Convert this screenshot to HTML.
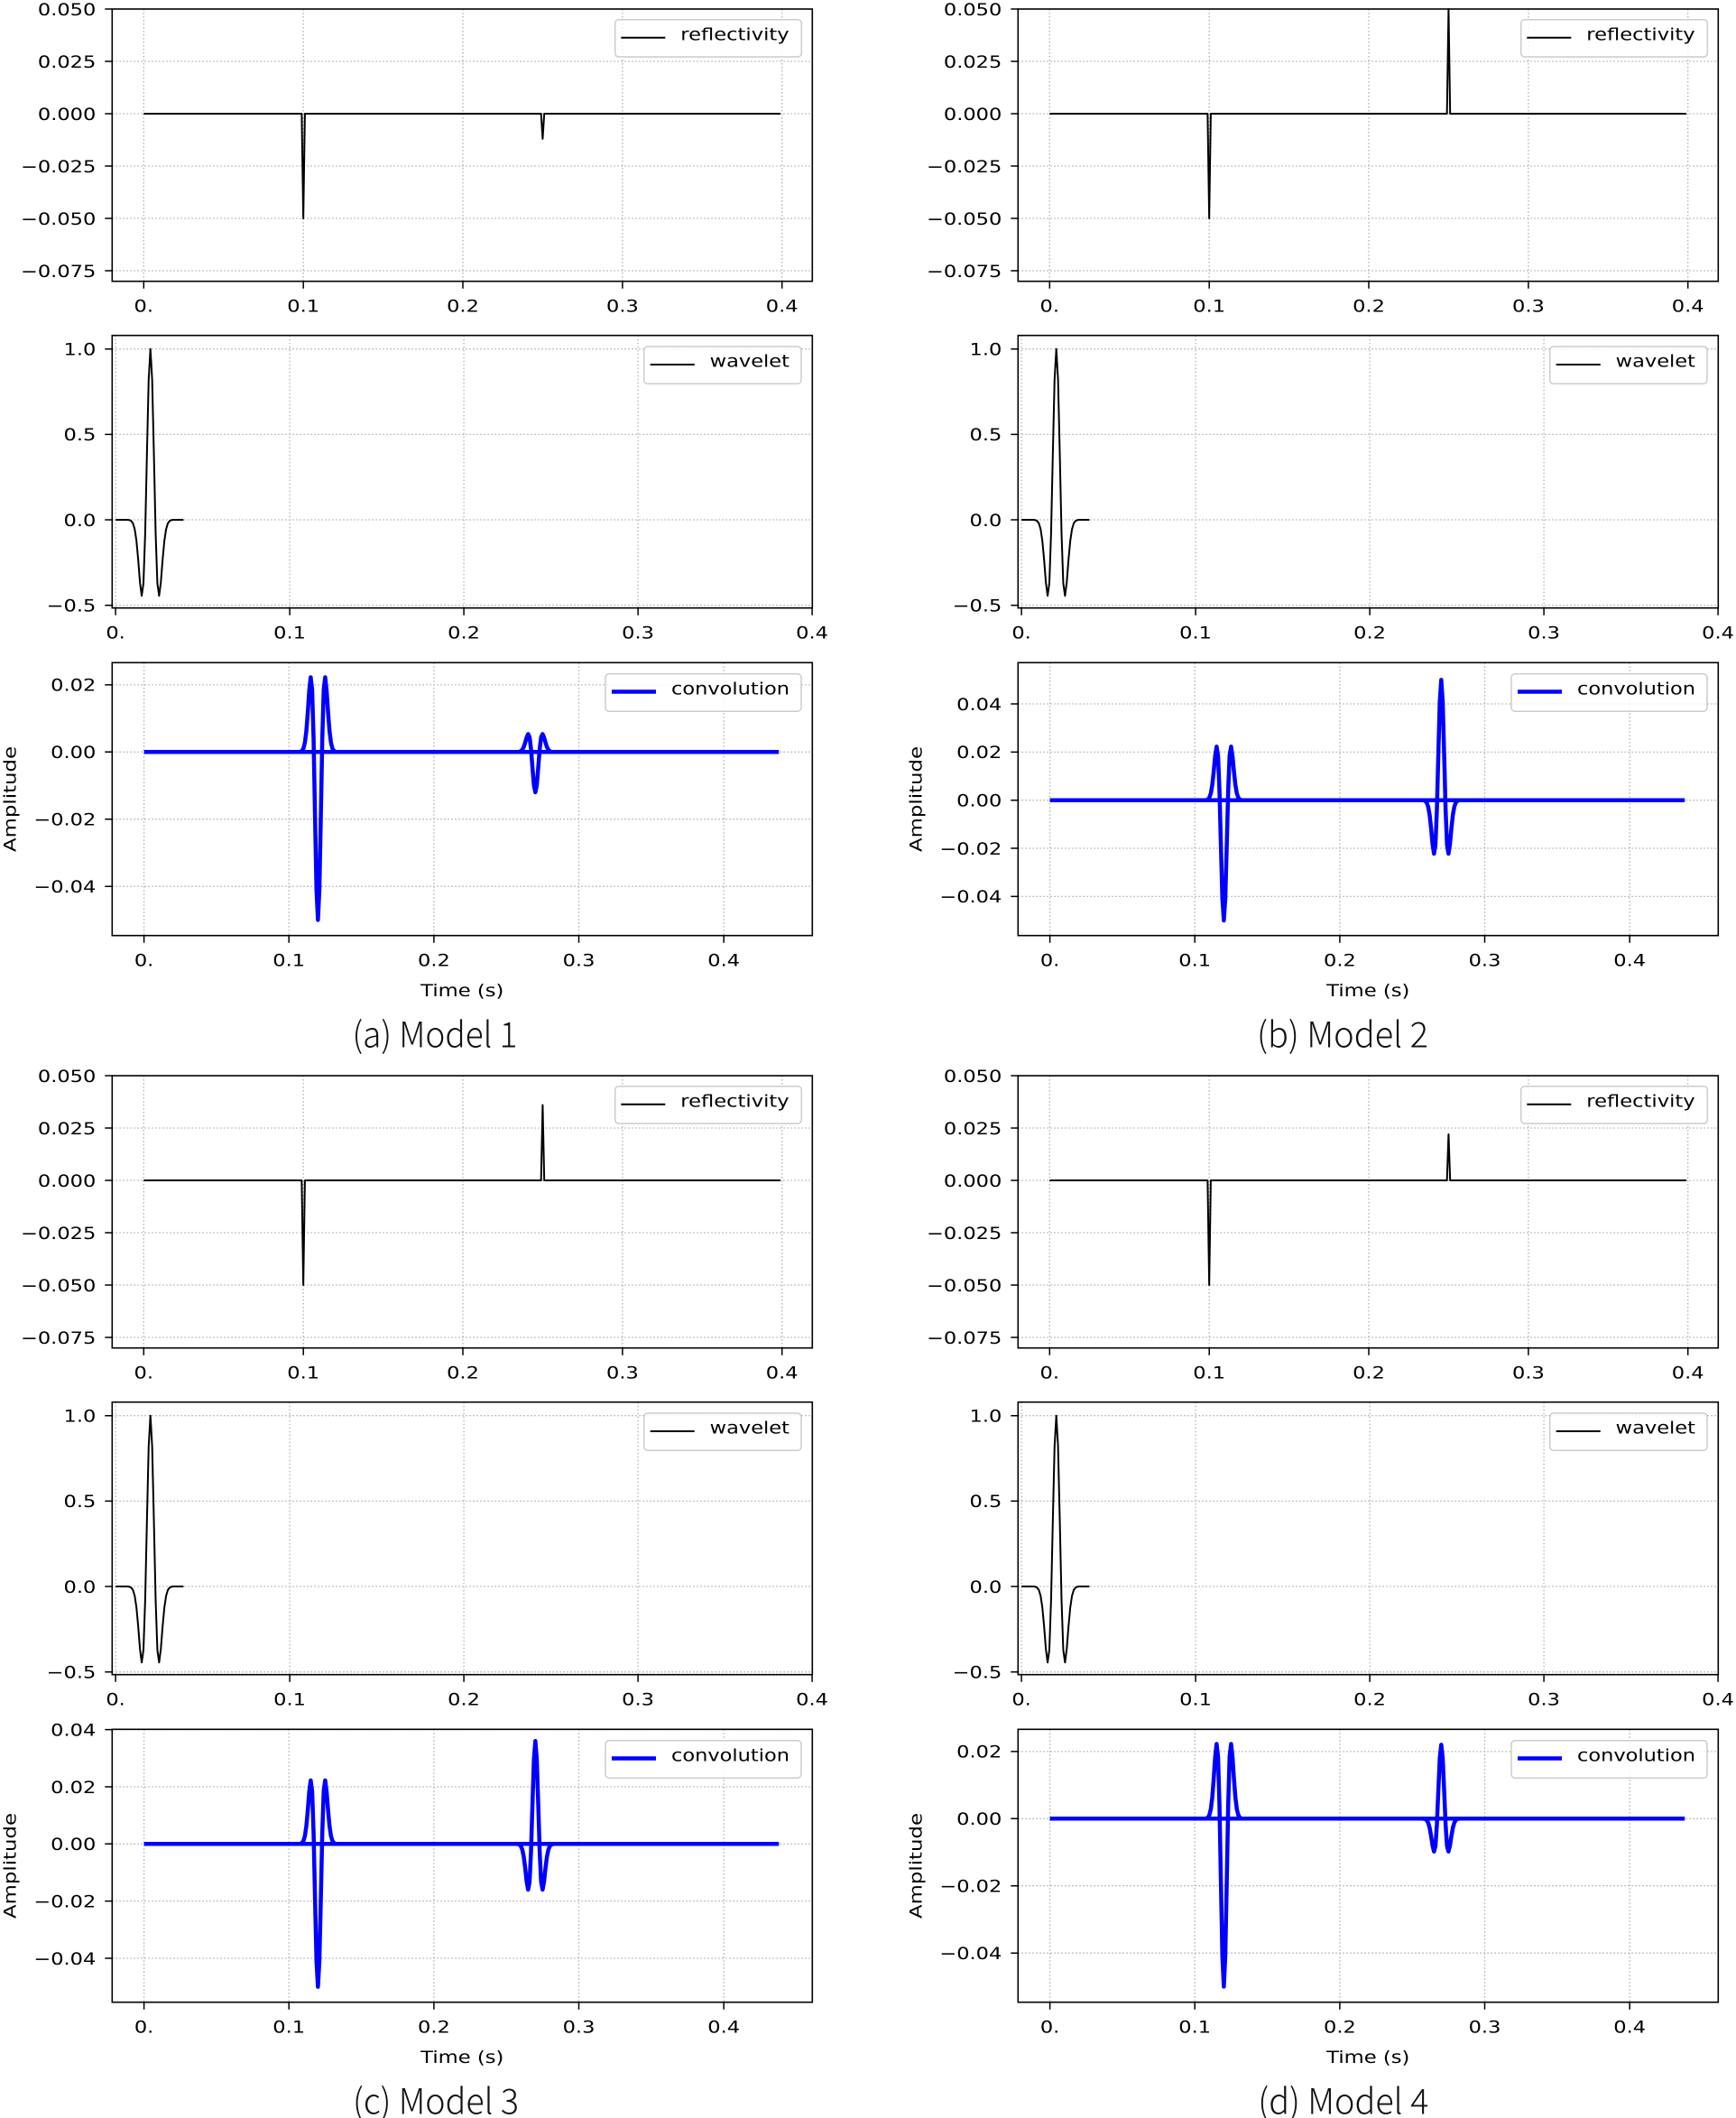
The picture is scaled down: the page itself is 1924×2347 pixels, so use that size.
<!DOCTYPE html>
<html><head><meta charset="utf-8"><style>
html,body{margin:0;padding:0;background:#fff}
svg{display:block}
.g{fill:none;stroke:#b0b0b0;stroke-width:1.3;stroke-dasharray:1.5 2.5}
.sp{fill:none;stroke:#000;stroke-width:1.6}
.tk{fill:none;stroke:#000;stroke-width:1.5}
.k{fill:none;stroke:#000;stroke-width:2;stroke-linejoin:round;vector-effect:non-scaling-stroke}
.b{fill:none;stroke:#0000ff;stroke-width:4.5;stroke-linejoin:round;vector-effect:non-scaling-stroke}
text{font-family:"DejaVu Sans","Liberation Sans",sans-serif;font-size:19px;fill:#000}
.e{text-anchor:end}.m{text-anchor:middle}
.cap{font-family:"Noto Sans CJK SC","Liberation Sans",sans-serif;font-weight:300;font-size:39px;text-anchor:middle;fill:#111}
.lg{fill:#fff;fill-opacity:.8;stroke:#cccccc;stroke-width:1.5}
</style></head><body>
<svg width="1924" height="2347" viewBox="0 0 1924 2347" xmlns="http://www.w3.org/2000/svg">
<rect width="1924" height="2347" fill="#fff"/>

<!-- ================= PANEL (a) ================= -->
<g transform="translate(0,0)">
<path class="g" d="M159.3 10V311.7M336.2 10V311.7M513 10V311.7M689.9 10V311.7M866.7 10V311.7M124.3 68H900.3M124.3 126H900.3M124.3 184H900.3M124.3 242H900.3M124.3 300H900.3"/>
<g transform="translate(159.3,126) scale(1.7685,-0.232)"><path class="k" d="M0 0L99 0L100 -500L101 0L249 0L250 -120L251 0L399 0"/></g>
<rect class="sp" x="124.3" y="10" width="776" height="301.7"/>
<path class="tk" d="M116.3 10h8M116.3 68h8M116.3 126h8M116.3 184h8M116.3 242h8M116.3 300h8M159.3 311.7v8M336.2 311.7v8M513 311.7v8M689.9 311.7v8M866.7 311.7v8"/>
<text class="e" x="106.3" y="16.8" textLength="64.4" lengthAdjust="spacingAndGlyphs">0.050</text>
<text class="e" x="106.3" y="74.8" textLength="64.4" lengthAdjust="spacingAndGlyphs">0.025</text>
<text class="e" x="106.3" y="132.8" textLength="64.4" lengthAdjust="spacingAndGlyphs">0.000</text>
<text class="e" x="106.3" y="190.8" textLength="83.3" lengthAdjust="spacingAndGlyphs">−0.025</text>
<text class="e" x="106.3" y="248.8" textLength="83.3" lengthAdjust="spacingAndGlyphs">−0.050</text>
<text class="e" x="106.3" y="306.8" textLength="83.3" lengthAdjust="spacingAndGlyphs">−0.075</text>
<text class="m" x="159.3" y="345.7" textLength="21.5" lengthAdjust="spacingAndGlyphs">0.</text>
<text class="m" x="336.2" y="345.7" textLength="35.8" lengthAdjust="spacingAndGlyphs">0.1</text>
<text class="m" x="513" y="345.7" textLength="35.8" lengthAdjust="spacingAndGlyphs">0.2</text>
<text class="m" x="689.9" y="345.7" textLength="35.8" lengthAdjust="spacingAndGlyphs">0.3</text>
<text class="m" x="866.7" y="345.7" textLength="35.8" lengthAdjust="spacingAndGlyphs">0.4</text>
<rect class="lg" x="681.7" y="21.7" width="206.6" height="41.3" rx="4"/>
<path d="M688.3 41.7H737.3" stroke="#000" stroke-width="2"/>
<text x="754.3" y="44.4" textLength="120.3" lengthAdjust="spacingAndGlyphs">reflectivity</text>

<path class="g" d="M128.1 371.7V673.7M321.1 371.7V673.7M514.1 371.7V673.7M707.1 371.7V673.7M900.1 371.7V673.7M124.3 386.7H900.3M124.3 481.4H900.3M124.3 576H900.3M124.3 670.7H900.3"/>
<g transform="translate(128.1,576) scale(1.93,-189.3)"><path class="k" d="M0 0L7 0L8 -.00193L9 -.00685L10 -.02102L11 -.05539L12 -.12435L13 -.23496L14 -.36512L15 -.44495L16 -.37175L17 -.07758L18 .38423L19 .82018L20 1L21 .82018L22 .38423L23 -.07758L24 -.37175L25 -.44495L26 -.36512L27 -.23496L28 -.12435L29 -.05539L30 -.02102L31 -.00685L32 -.00193L33 0L39 0"/></g>
<rect class="sp" x="124.3" y="371.7" width="776" height="302"/>
<path class="tk" d="M116.3 386.7h8M116.3 481.4h8M116.3 576h8M116.3 670.7h8M128.1 673.7v8M321.1 673.7v8M514.1 673.7v8M707.1 673.7v8M900.1 673.7v8"/>
<text class="e" x="106.3" y="393.5" textLength="35.8" lengthAdjust="spacingAndGlyphs">1.0</text>
<text class="e" x="106.3" y="488.2" textLength="35.8" lengthAdjust="spacingAndGlyphs">0.5</text>
<text class="e" x="106.3" y="582.8" textLength="35.8" lengthAdjust="spacingAndGlyphs">0.0</text>
<text class="e" x="106.3" y="677.5" textLength="54.6" lengthAdjust="spacingAndGlyphs">−0.5</text>
<text class="m" x="128.1" y="707.7" textLength="21.5" lengthAdjust="spacingAndGlyphs">0.</text>
<text class="m" x="321.1" y="707.7" textLength="35.8" lengthAdjust="spacingAndGlyphs">0.1</text>
<text class="m" x="514.1" y="707.7" textLength="35.8" lengthAdjust="spacingAndGlyphs">0.2</text>
<text class="m" x="707.1" y="707.7" textLength="35.8" lengthAdjust="spacingAndGlyphs">0.3</text>
<text class="m" x="900.1" y="707.7" textLength="35.8" lengthAdjust="spacingAndGlyphs">0.4</text>
<rect class="lg" x="713.7" y="384" width="174.3" height="41.3" rx="4"/>
<path d="M720.7 404H769.7" stroke="#000" stroke-width="2"/>
<text x="786.7" y="406.7" textLength="88.3" lengthAdjust="spacingAndGlyphs">wavelet</text>

<path class="g" d="M159.6 734.3V1036.7M320.2 734.3V1036.7M480.9 734.3V1036.7M641.5 734.3V1036.7M802.2 734.3V1036.7M124.3 758.9H900.3M124.3 833.3H900.3M124.3 907.7H900.3M124.3 982.2H900.3"/>
<g transform="translate(159.6,833.3) scale(1.6064,-3722)">
<path class="b" d="M0 0L438 0"/>
<path class="b" transform="translate(120,0) scale(1,-0.05)" d="M-13 0L-12 -.00193L-11 -.00685L-10 -.02102L-9 -.05539L-8 -.12435L-7 -.23496L-6 -.36512L-5 -.44495L-4 -.37175L-3 -.07758L-2 .38423L-1 .82018L0 1L1 .82018L2 .38423L3 -.07758L4 -.37175L5 -.44495L6 -.36512L7 -.23496L8 -.12435L9 -.05539L10 -.02102L11 -.00685L12 -.00193L13 0"/>
<path class="b" transform="translate(270,0) scale(1,-0.012)" d="M-13 0L-12 -.00193L-11 -.00685L-10 -.02102L-9 -.05539L-8 -.12435L-7 -.23496L-6 -.36512L-5 -.44495L-4 -.37175L-3 -.07758L-2 .38423L-1 .82018L0 1L1 .82018L2 .38423L3 -.07758L4 -.37175L5 -.44495L6 -.36512L7 -.23496L8 -.12435L9 -.05539L10 -.02102L11 -.00685L12 -.00193L13 0"/>
</g>
<rect class="sp" x="124.3" y="734.3" width="776" height="302.4"/>
<path class="tk" d="M116.3 758.9h8M116.3 833.3h8M116.3 907.7h8M116.3 982.2h8M159.6 1036.7v8M320.2 1036.7v8M480.9 1036.7v8M641.5 1036.7v8M802.2 1036.7v8"/>
<text class="e" x="106.3" y="765.7" textLength="50.1" lengthAdjust="spacingAndGlyphs">0.02</text>
<text class="e" x="106.3" y="840.1" textLength="50.1" lengthAdjust="spacingAndGlyphs">0.00</text>
<text class="e" x="106.3" y="914.5" textLength="68.9" lengthAdjust="spacingAndGlyphs">−0.02</text>
<text class="e" x="106.3" y="989" textLength="68.9" lengthAdjust="spacingAndGlyphs">−0.04</text>
<text class="m" x="159.6" y="1070.7" textLength="21.5" lengthAdjust="spacingAndGlyphs">0.</text>
<text class="m" x="320.2" y="1070.7" textLength="35.8" lengthAdjust="spacingAndGlyphs">0.1</text>
<text class="m" x="480.9" y="1070.7" textLength="35.8" lengthAdjust="spacingAndGlyphs">0.2</text>
<text class="m" x="641.5" y="1070.7" textLength="35.8" lengthAdjust="spacingAndGlyphs">0.3</text>
<text class="m" x="802.2" y="1070.7" textLength="35.8" lengthAdjust="spacingAndGlyphs">0.4</text>
<text class="m" x="512.3" y="1104" textLength="92.2" lengthAdjust="spacingAndGlyphs">Time (s)</text>
<text class="m" x="17.7" y="885.5" transform="rotate(-90 17.7 885.5)" textLength="117" lengthAdjust="spacingAndGlyphs">Amplitude</text>
<rect class="lg" x="671" y="746.7" width="217" height="41.5" rx="4"/>
<path d="M678 766.5H727" stroke="#0000ff" stroke-width="4.5"/>
<text x="744" y="769.4" textLength="131" lengthAdjust="spacingAndGlyphs">convolution</text>
<text class="cap" x="482" y="1160.7" textLength="183" lengthAdjust="spacingAndGlyphs">(a) Model 1</text>
</g>

<!-- ================= PANEL (b) ================= -->
<g transform="translate(1004,0)">
<path class="g" d="M159.3 10V311.7M336.2 10V311.7M513 10V311.7M689.9 10V311.7M866.7 10V311.7M124.3 68H900.3M124.3 126H900.3M124.3 184H900.3M124.3 242H900.3M124.3 300H900.3"/>
<g transform="translate(159.3,126) scale(1.7685,-0.232)"><path class="k" d="M0 0L99 0L100 -500L101 0L249 0L250 500L251 0L399 0"/></g>
<rect class="sp" x="124.3" y="10" width="776" height="301.7"/>
<path class="tk" d="M116.3 10h8M116.3 68h8M116.3 126h8M116.3 184h8M116.3 242h8M116.3 300h8M159.3 311.7v8M336.2 311.7v8M513 311.7v8M689.9 311.7v8M866.7 311.7v8"/>
<text class="e" x="106.3" y="16.8" textLength="64.4" lengthAdjust="spacingAndGlyphs">0.050</text>
<text class="e" x="106.3" y="74.8" textLength="64.4" lengthAdjust="spacingAndGlyphs">0.025</text>
<text class="e" x="106.3" y="132.8" textLength="64.4" lengthAdjust="spacingAndGlyphs">0.000</text>
<text class="e" x="106.3" y="190.8" textLength="83.3" lengthAdjust="spacingAndGlyphs">−0.025</text>
<text class="e" x="106.3" y="248.8" textLength="83.3" lengthAdjust="spacingAndGlyphs">−0.050</text>
<text class="e" x="106.3" y="306.8" textLength="83.3" lengthAdjust="spacingAndGlyphs">−0.075</text>
<text class="m" x="159.3" y="345.7" textLength="21.5" lengthAdjust="spacingAndGlyphs">0.</text>
<text class="m" x="336.2" y="345.7" textLength="35.8" lengthAdjust="spacingAndGlyphs">0.1</text>
<text class="m" x="513" y="345.7" textLength="35.8" lengthAdjust="spacingAndGlyphs">0.2</text>
<text class="m" x="689.9" y="345.7" textLength="35.8" lengthAdjust="spacingAndGlyphs">0.3</text>
<text class="m" x="866.7" y="345.7" textLength="35.8" lengthAdjust="spacingAndGlyphs">0.4</text>
<rect class="lg" x="681.7" y="21.7" width="206.6" height="41.3" rx="4"/>
<path d="M688.3 41.7H737.3" stroke="#000" stroke-width="2"/>
<text x="754.3" y="44.4" textLength="120.3" lengthAdjust="spacingAndGlyphs">reflectivity</text>

<path class="g" d="M128.1 371.7V673.7M321.1 371.7V673.7M514.1 371.7V673.7M707.1 371.7V673.7M900.1 371.7V673.7M124.3 386.7H900.3M124.3 481.4H900.3M124.3 576H900.3M124.3 670.7H900.3"/>
<g transform="translate(128.1,576) scale(1.93,-189.3)"><path class="k" d="M0 0L7 0L8 -.00193L9 -.00685L10 -.02102L11 -.05539L12 -.12435L13 -.23496L14 -.36512L15 -.44495L16 -.37175L17 -.07758L18 .38423L19 .82018L20 1L21 .82018L22 .38423L23 -.07758L24 -.37175L25 -.44495L26 -.36512L27 -.23496L28 -.12435L29 -.05539L30 -.02102L31 -.00685L32 -.00193L33 0L39 0"/></g>
<rect class="sp" x="124.3" y="371.7" width="776" height="302"/>
<path class="tk" d="M116.3 386.7h8M116.3 481.4h8M116.3 576h8M116.3 670.7h8M128.1 673.7v8M321.1 673.7v8M514.1 673.7v8M707.1 673.7v8M900.1 673.7v8"/>
<text class="e" x="106.3" y="393.5" textLength="35.8" lengthAdjust="spacingAndGlyphs">1.0</text>
<text class="e" x="106.3" y="488.2" textLength="35.8" lengthAdjust="spacingAndGlyphs">0.5</text>
<text class="e" x="106.3" y="582.8" textLength="35.8" lengthAdjust="spacingAndGlyphs">0.0</text>
<text class="e" x="106.3" y="677.5" textLength="54.6" lengthAdjust="spacingAndGlyphs">−0.5</text>
<text class="m" x="128.1" y="707.7" textLength="21.5" lengthAdjust="spacingAndGlyphs">0.</text>
<text class="m" x="321.1" y="707.7" textLength="35.8" lengthAdjust="spacingAndGlyphs">0.1</text>
<text class="m" x="514.1" y="707.7" textLength="35.8" lengthAdjust="spacingAndGlyphs">0.2</text>
<text class="m" x="707.1" y="707.7" textLength="35.8" lengthAdjust="spacingAndGlyphs">0.3</text>
<text class="m" x="900.1" y="707.7" textLength="35.8" lengthAdjust="spacingAndGlyphs">0.4</text>
<rect class="lg" x="713.7" y="384" width="174.3" height="41.3" rx="4"/>
<path d="M720.7 404H769.7" stroke="#000" stroke-width="2"/>
<text x="786.7" y="406.7" textLength="88.3" lengthAdjust="spacingAndGlyphs">wavelet</text>

<path class="g" d="M159.6 734.3V1036.7M320.2 734.3V1036.7M480.9 734.3V1036.7M641.5 734.3V1036.7M802.2 734.3V1036.7M124.3 780H900.3M124.3 833.4H900.3M124.3 886.7H900.3M124.3 940H900.3M124.3 993.4H900.3"/>
<g transform="translate(159.6,886.7) scale(1.6064,-2667)">
<path class="b" d="M0 0L438 0"/>
<path class="b" transform="translate(120,0) scale(1,-0.05)" d="M-13 0L-12 -.00193L-11 -.00685L-10 -.02102L-9 -.05539L-8 -.12435L-7 -.23496L-6 -.36512L-5 -.44495L-4 -.37175L-3 -.07758L-2 .38423L-1 .82018L0 1L1 .82018L2 .38423L3 -.07758L4 -.37175L5 -.44495L6 -.36512L7 -.23496L8 -.12435L9 -.05539L10 -.02102L11 -.00685L12 -.00193L13 0"/>
<path class="b" transform="translate(270,0) scale(1,0.05)" d="M-13 0L-12 -.00193L-11 -.00685L-10 -.02102L-9 -.05539L-8 -.12435L-7 -.23496L-6 -.36512L-5 -.44495L-4 -.37175L-3 -.07758L-2 .38423L-1 .82018L0 1L1 .82018L2 .38423L3 -.07758L4 -.37175L5 -.44495L6 -.36512L7 -.23496L8 -.12435L9 -.05539L10 -.02102L11 -.00685L12 -.00193L13 0"/>
</g>
<rect class="sp" x="124.3" y="734.3" width="776" height="302.4"/>
<path class="tk" d="M116.3 780h8M116.3 833.4h8M116.3 886.7h8M116.3 940h8M116.3 993.4h8M159.6 1036.7v8M320.2 1036.7v8M480.9 1036.7v8M641.5 1036.7v8M802.2 1036.7v8"/>
<text class="e" x="106.3" y="786.8" textLength="50.1" lengthAdjust="spacingAndGlyphs">0.04</text>
<text class="e" x="106.3" y="840.2" textLength="50.1" lengthAdjust="spacingAndGlyphs">0.02</text>
<text class="e" x="106.3" y="893.5" textLength="50.1" lengthAdjust="spacingAndGlyphs">0.00</text>
<text class="e" x="106.3" y="946.8" textLength="68.9" lengthAdjust="spacingAndGlyphs">−0.02</text>
<text class="e" x="106.3" y="1000.2" textLength="68.9" lengthAdjust="spacingAndGlyphs">−0.04</text>
<text class="m" x="159.6" y="1070.7" textLength="21.5" lengthAdjust="spacingAndGlyphs">0.</text>
<text class="m" x="320.2" y="1070.7" textLength="35.8" lengthAdjust="spacingAndGlyphs">0.1</text>
<text class="m" x="480.9" y="1070.7" textLength="35.8" lengthAdjust="spacingAndGlyphs">0.2</text>
<text class="m" x="641.5" y="1070.7" textLength="35.8" lengthAdjust="spacingAndGlyphs">0.3</text>
<text class="m" x="802.2" y="1070.7" textLength="35.8" lengthAdjust="spacingAndGlyphs">0.4</text>
<text class="m" x="512.3" y="1104" textLength="92.2" lengthAdjust="spacingAndGlyphs">Time (s)</text>
<text class="m" x="17.7" y="885.5" transform="rotate(-90 17.7 885.5)" textLength="117" lengthAdjust="spacingAndGlyphs">Amplitude</text>
<rect class="lg" x="671" y="746.7" width="217" height="41.5" rx="4"/>
<path d="M678 766.5H727" stroke="#0000ff" stroke-width="4.5"/>
<text x="744" y="769.4" textLength="131" lengthAdjust="spacingAndGlyphs">convolution</text>
<text class="cap" x="484" y="1160.7" textLength="190" lengthAdjust="spacingAndGlyphs">(b) Model 2</text>
</g>

<!-- ================= PANEL (c) ================= -->
<g transform="translate(0,1182)">
<path class="g" d="M159.3 10V311.7M336.2 10V311.7M513 10V311.7M689.9 10V311.7M866.7 10V311.7M124.3 68H900.3M124.3 126H900.3M124.3 184H900.3M124.3 242H900.3M124.3 300H900.3"/>
<g transform="translate(159.3,126) scale(1.7685,-0.232)"><path class="k" d="M0 0L99 0L100 -500L101 0L249 0L250 360L251 0L399 0"/></g>
<rect class="sp" x="124.3" y="10" width="776" height="301.7"/>
<path class="tk" d="M116.3 10h8M116.3 68h8M116.3 126h8M116.3 184h8M116.3 242h8M116.3 300h8M159.3 311.7v8M336.2 311.7v8M513 311.7v8M689.9 311.7v8M866.7 311.7v8"/>
<text class="e" x="106.3" y="16.8" textLength="64.4" lengthAdjust="spacingAndGlyphs">0.050</text>
<text class="e" x="106.3" y="74.8" textLength="64.4" lengthAdjust="spacingAndGlyphs">0.025</text>
<text class="e" x="106.3" y="132.8" textLength="64.4" lengthAdjust="spacingAndGlyphs">0.000</text>
<text class="e" x="106.3" y="190.8" textLength="83.3" lengthAdjust="spacingAndGlyphs">−0.025</text>
<text class="e" x="106.3" y="248.8" textLength="83.3" lengthAdjust="spacingAndGlyphs">−0.050</text>
<text class="e" x="106.3" y="306.8" textLength="83.3" lengthAdjust="spacingAndGlyphs">−0.075</text>
<text class="m" x="159.3" y="345.7" textLength="21.5" lengthAdjust="spacingAndGlyphs">0.</text>
<text class="m" x="336.2" y="345.7" textLength="35.8" lengthAdjust="spacingAndGlyphs">0.1</text>
<text class="m" x="513" y="345.7" textLength="35.8" lengthAdjust="spacingAndGlyphs">0.2</text>
<text class="m" x="689.9" y="345.7" textLength="35.8" lengthAdjust="spacingAndGlyphs">0.3</text>
<text class="m" x="866.7" y="345.7" textLength="35.8" lengthAdjust="spacingAndGlyphs">0.4</text>
<rect class="lg" x="681.7" y="21.7" width="206.6" height="41.3" rx="4"/>
<path d="M688.3 41.7H737.3" stroke="#000" stroke-width="2"/>
<text x="754.3" y="44.4" textLength="120.3" lengthAdjust="spacingAndGlyphs">reflectivity</text>

<path class="g" d="M128.1 371.7V673.7M321.1 371.7V673.7M514.1 371.7V673.7M707.1 371.7V673.7M900.1 371.7V673.7M124.3 386.7H900.3M124.3 481.4H900.3M124.3 576H900.3M124.3 670.7H900.3"/>
<g transform="translate(128.1,576) scale(1.93,-189.3)"><path class="k" d="M0 0L7 0L8 -.00193L9 -.00685L10 -.02102L11 -.05539L12 -.12435L13 -.23496L14 -.36512L15 -.44495L16 -.37175L17 -.07758L18 .38423L19 .82018L20 1L21 .82018L22 .38423L23 -.07758L24 -.37175L25 -.44495L26 -.36512L27 -.23496L28 -.12435L29 -.05539L30 -.02102L31 -.00685L32 -.00193L33 0L39 0"/></g>
<rect class="sp" x="124.3" y="371.7" width="776" height="302"/>
<path class="tk" d="M116.3 386.7h8M116.3 481.4h8M116.3 576h8M116.3 670.7h8M128.1 673.7v8M321.1 673.7v8M514.1 673.7v8M707.1 673.7v8M900.1 673.7v8"/>
<text class="e" x="106.3" y="393.5" textLength="35.8" lengthAdjust="spacingAndGlyphs">1.0</text>
<text class="e" x="106.3" y="488.2" textLength="35.8" lengthAdjust="spacingAndGlyphs">0.5</text>
<text class="e" x="106.3" y="582.8" textLength="35.8" lengthAdjust="spacingAndGlyphs">0.0</text>
<text class="e" x="106.3" y="677.5" textLength="54.6" lengthAdjust="spacingAndGlyphs">−0.5</text>
<text class="m" x="128.1" y="707.7" textLength="21.5" lengthAdjust="spacingAndGlyphs">0.</text>
<text class="m" x="321.1" y="707.7" textLength="35.8" lengthAdjust="spacingAndGlyphs">0.1</text>
<text class="m" x="514.1" y="707.7" textLength="35.8" lengthAdjust="spacingAndGlyphs">0.2</text>
<text class="m" x="707.1" y="707.7" textLength="35.8" lengthAdjust="spacingAndGlyphs">0.3</text>
<text class="m" x="900.1" y="707.7" textLength="35.8" lengthAdjust="spacingAndGlyphs">0.4</text>
<rect class="lg" x="713.7" y="384" width="174.3" height="41.3" rx="4"/>
<path d="M720.7 404H769.7" stroke="#000" stroke-width="2"/>
<text x="786.7" y="406.7" textLength="88.3" lengthAdjust="spacingAndGlyphs">wavelet</text>

<path class="g" d="M159.6 734.3V1036.7M320.2 734.3V1036.7M480.9 734.3V1036.7M641.5 734.3V1036.7M802.2 734.3V1036.7M124.3 734.6H900.3M124.3 798H900.3M124.3 861.3H900.3M124.3 924.6H900.3M124.3 988H900.3"/>
<g transform="translate(159.6,861.3) scale(1.6064,-3167)">
<path class="b" d="M0 0L438 0"/>
<path class="b" transform="translate(120,0) scale(1,-0.05)" d="M-13 0L-12 -.00193L-11 -.00685L-10 -.02102L-9 -.05539L-8 -.12435L-7 -.23496L-6 -.36512L-5 -.44495L-4 -.37175L-3 -.07758L-2 .38423L-1 .82018L0 1L1 .82018L2 .38423L3 -.07758L4 -.37175L5 -.44495L6 -.36512L7 -.23496L8 -.12435L9 -.05539L10 -.02102L11 -.00685L12 -.00193L13 0"/>
<path class="b" transform="translate(270,0) scale(1,0.036)" d="M-13 0L-12 -.00193L-11 -.00685L-10 -.02102L-9 -.05539L-8 -.12435L-7 -.23496L-6 -.36512L-5 -.44495L-4 -.37175L-3 -.07758L-2 .38423L-1 .82018L0 1L1 .82018L2 .38423L3 -.07758L4 -.37175L5 -.44495L6 -.36512L7 -.23496L8 -.12435L9 -.05539L10 -.02102L11 -.00685L12 -.00193L13 0"/>
</g>
<rect class="sp" x="124.3" y="734.3" width="776" height="302.4"/>
<path class="tk" d="M116.3 734.6h8M116.3 798h8M116.3 861.3h8M116.3 924.6h8M116.3 988h8M159.6 1036.7v8M320.2 1036.7v8M480.9 1036.7v8M641.5 1036.7v8M802.2 1036.7v8"/>
<text class="e" x="106.3" y="741.4" textLength="50.1" lengthAdjust="spacingAndGlyphs">0.04</text>
<text class="e" x="106.3" y="804.8" textLength="50.1" lengthAdjust="spacingAndGlyphs">0.02</text>
<text class="e" x="106.3" y="868.1" textLength="50.1" lengthAdjust="spacingAndGlyphs">0.00</text>
<text class="e" x="106.3" y="931.4" textLength="68.9" lengthAdjust="spacingAndGlyphs">−0.02</text>
<text class="e" x="106.3" y="994.8" textLength="68.9" lengthAdjust="spacingAndGlyphs">−0.04</text>
<text class="m" x="159.6" y="1070.7" textLength="21.5" lengthAdjust="spacingAndGlyphs">0.</text>
<text class="m" x="320.2" y="1070.7" textLength="35.8" lengthAdjust="spacingAndGlyphs">0.1</text>
<text class="m" x="480.9" y="1070.7" textLength="35.8" lengthAdjust="spacingAndGlyphs">0.2</text>
<text class="m" x="641.5" y="1070.7" textLength="35.8" lengthAdjust="spacingAndGlyphs">0.3</text>
<text class="m" x="802.2" y="1070.7" textLength="35.8" lengthAdjust="spacingAndGlyphs">0.4</text>
<text class="m" x="512.3" y="1104" textLength="92.2" lengthAdjust="spacingAndGlyphs">Time (s)</text>
<text class="m" x="17.7" y="885.5" transform="rotate(-90 17.7 885.5)" textLength="117" lengthAdjust="spacingAndGlyphs">Amplitude</text>
<rect class="lg" x="671" y="746.7" width="217" height="41.5" rx="4"/>
<path d="M678 766.5H727" stroke="#0000ff" stroke-width="4.5"/>
<text x="744" y="769.4" textLength="131" lengthAdjust="spacingAndGlyphs">convolution</text>
<text class="cap" x="483" y="1160.7" textLength="184" lengthAdjust="spacingAndGlyphs">(c) Model 3</text>
</g>

<!-- ================= PANEL (d) ================= -->
<g transform="translate(1004,1182)">
<path class="g" d="M159.3 10V311.7M336.2 10V311.7M513 10V311.7M689.9 10V311.7M866.7 10V311.7M124.3 68H900.3M124.3 126H900.3M124.3 184H900.3M124.3 242H900.3M124.3 300H900.3"/>
<g transform="translate(159.3,126) scale(1.7685,-0.232)"><path class="k" d="M0 0L99 0L100 -500L101 0L249 0L250 220L251 0L399 0"/></g>
<rect class="sp" x="124.3" y="10" width="776" height="301.7"/>
<path class="tk" d="M116.3 10h8M116.3 68h8M116.3 126h8M116.3 184h8M116.3 242h8M116.3 300h8M159.3 311.7v8M336.2 311.7v8M513 311.7v8M689.9 311.7v8M866.7 311.7v8"/>
<text class="e" x="106.3" y="16.8" textLength="64.4" lengthAdjust="spacingAndGlyphs">0.050</text>
<text class="e" x="106.3" y="74.8" textLength="64.4" lengthAdjust="spacingAndGlyphs">0.025</text>
<text class="e" x="106.3" y="132.8" textLength="64.4" lengthAdjust="spacingAndGlyphs">0.000</text>
<text class="e" x="106.3" y="190.8" textLength="83.3" lengthAdjust="spacingAndGlyphs">−0.025</text>
<text class="e" x="106.3" y="248.8" textLength="83.3" lengthAdjust="spacingAndGlyphs">−0.050</text>
<text class="e" x="106.3" y="306.8" textLength="83.3" lengthAdjust="spacingAndGlyphs">−0.075</text>
<text class="m" x="159.3" y="345.7" textLength="21.5" lengthAdjust="spacingAndGlyphs">0.</text>
<text class="m" x="336.2" y="345.7" textLength="35.8" lengthAdjust="spacingAndGlyphs">0.1</text>
<text class="m" x="513" y="345.7" textLength="35.8" lengthAdjust="spacingAndGlyphs">0.2</text>
<text class="m" x="689.9" y="345.7" textLength="35.8" lengthAdjust="spacingAndGlyphs">0.3</text>
<text class="m" x="866.7" y="345.7" textLength="35.8" lengthAdjust="spacingAndGlyphs">0.4</text>
<rect class="lg" x="681.7" y="21.7" width="206.6" height="41.3" rx="4"/>
<path d="M688.3 41.7H737.3" stroke="#000" stroke-width="2"/>
<text x="754.3" y="44.4" textLength="120.3" lengthAdjust="spacingAndGlyphs">reflectivity</text>

<path class="g" d="M128.1 371.7V673.7M321.1 371.7V673.7M514.1 371.7V673.7M707.1 371.7V673.7M900.1 371.7V673.7M124.3 386.7H900.3M124.3 481.4H900.3M124.3 576H900.3M124.3 670.7H900.3"/>
<g transform="translate(128.1,576) scale(1.93,-189.3)"><path class="k" d="M0 0L7 0L8 -.00193L9 -.00685L10 -.02102L11 -.05539L12 -.12435L13 -.23496L14 -.36512L15 -.44495L16 -.37175L17 -.07758L18 .38423L19 .82018L20 1L21 .82018L22 .38423L23 -.07758L24 -.37175L25 -.44495L26 -.36512L27 -.23496L28 -.12435L29 -.05539L30 -.02102L31 -.00685L32 -.00193L33 0L39 0"/></g>
<rect class="sp" x="124.3" y="371.7" width="776" height="302"/>
<path class="tk" d="M116.3 386.7h8M116.3 481.4h8M116.3 576h8M116.3 670.7h8M128.1 673.7v8M321.1 673.7v8M514.1 673.7v8M707.1 673.7v8M900.1 673.7v8"/>
<text class="e" x="106.3" y="393.5" textLength="35.8" lengthAdjust="spacingAndGlyphs">1.0</text>
<text class="e" x="106.3" y="488.2" textLength="35.8" lengthAdjust="spacingAndGlyphs">0.5</text>
<text class="e" x="106.3" y="582.8" textLength="35.8" lengthAdjust="spacingAndGlyphs">0.0</text>
<text class="e" x="106.3" y="677.5" textLength="54.6" lengthAdjust="spacingAndGlyphs">−0.5</text>
<text class="m" x="128.1" y="707.7" textLength="21.5" lengthAdjust="spacingAndGlyphs">0.</text>
<text class="m" x="321.1" y="707.7" textLength="35.8" lengthAdjust="spacingAndGlyphs">0.1</text>
<text class="m" x="514.1" y="707.7" textLength="35.8" lengthAdjust="spacingAndGlyphs">0.2</text>
<text class="m" x="707.1" y="707.7" textLength="35.8" lengthAdjust="spacingAndGlyphs">0.3</text>
<text class="m" x="900.1" y="707.7" textLength="35.8" lengthAdjust="spacingAndGlyphs">0.4</text>
<rect class="lg" x="713.7" y="384" width="174.3" height="41.3" rx="4"/>
<path d="M720.7 404H769.7" stroke="#000" stroke-width="2"/>
<text x="786.7" y="406.7" textLength="88.3" lengthAdjust="spacingAndGlyphs">wavelet</text>

<path class="g" d="M159.6 734.3V1036.7M320.2 734.3V1036.7M480.9 734.3V1036.7M641.5 734.3V1036.7M802.2 734.3V1036.7M124.3 758.9H900.3M124.3 833.3H900.3M124.3 907.7H900.3M124.3 982.2H900.3"/>
<g transform="translate(159.6,833.3) scale(1.6064,-3722)">
<path class="b" d="M0 0L438 0"/>
<path class="b" transform="translate(120,0) scale(1,-0.05)" d="M-13 0L-12 -.00193L-11 -.00685L-10 -.02102L-9 -.05539L-8 -.12435L-7 -.23496L-6 -.36512L-5 -.44495L-4 -.37175L-3 -.07758L-2 .38423L-1 .82018L0 1L1 .82018L2 .38423L3 -.07758L4 -.37175L5 -.44495L6 -.36512L7 -.23496L8 -.12435L9 -.05539L10 -.02102L11 -.00685L12 -.00193L13 0"/>
<path class="b" transform="translate(270,0) scale(1,0.022)" d="M-13 0L-12 -.00193L-11 -.00685L-10 -.02102L-9 -.05539L-8 -.12435L-7 -.23496L-6 -.36512L-5 -.44495L-4 -.37175L-3 -.07758L-2 .38423L-1 .82018L0 1L1 .82018L2 .38423L3 -.07758L4 -.37175L5 -.44495L6 -.36512L7 -.23496L8 -.12435L9 -.05539L10 -.02102L11 -.00685L12 -.00193L13 0"/>
</g>
<rect class="sp" x="124.3" y="734.3" width="776" height="302.4"/>
<path class="tk" d="M116.3 758.9h8M116.3 833.3h8M116.3 907.7h8M116.3 982.2h8M159.6 1036.7v8M320.2 1036.7v8M480.9 1036.7v8M641.5 1036.7v8M802.2 1036.7v8"/>
<text class="e" x="106.3" y="765.7" textLength="50.1" lengthAdjust="spacingAndGlyphs">0.02</text>
<text class="e" x="106.3" y="840.1" textLength="50.1" lengthAdjust="spacingAndGlyphs">0.00</text>
<text class="e" x="106.3" y="914.5" textLength="68.9" lengthAdjust="spacingAndGlyphs">−0.02</text>
<text class="e" x="106.3" y="989" textLength="68.9" lengthAdjust="spacingAndGlyphs">−0.04</text>
<text class="m" x="159.6" y="1070.7" textLength="21.5" lengthAdjust="spacingAndGlyphs">0.</text>
<text class="m" x="320.2" y="1070.7" textLength="35.8" lengthAdjust="spacingAndGlyphs">0.1</text>
<text class="m" x="480.9" y="1070.7" textLength="35.8" lengthAdjust="spacingAndGlyphs">0.2</text>
<text class="m" x="641.5" y="1070.7" textLength="35.8" lengthAdjust="spacingAndGlyphs">0.3</text>
<text class="m" x="802.2" y="1070.7" textLength="35.8" lengthAdjust="spacingAndGlyphs">0.4</text>
<text class="m" x="512.3" y="1104" textLength="92.2" lengthAdjust="spacingAndGlyphs">Time (s)</text>
<text class="m" x="17.7" y="885.5" transform="rotate(-90 17.7 885.5)" textLength="117" lengthAdjust="spacingAndGlyphs">Amplitude</text>
<rect class="lg" x="671" y="746.7" width="217" height="41.5" rx="4"/>
<path d="M678 766.5H727" stroke="#0000ff" stroke-width="4.5"/>
<text x="744" y="769.4" textLength="131" lengthAdjust="spacingAndGlyphs">convolution</text>
<text class="cap" x="484.8" y="1160.7" textLength="189" lengthAdjust="spacingAndGlyphs">(d) Model 4</text>
</g>
</svg>
</body></html>
